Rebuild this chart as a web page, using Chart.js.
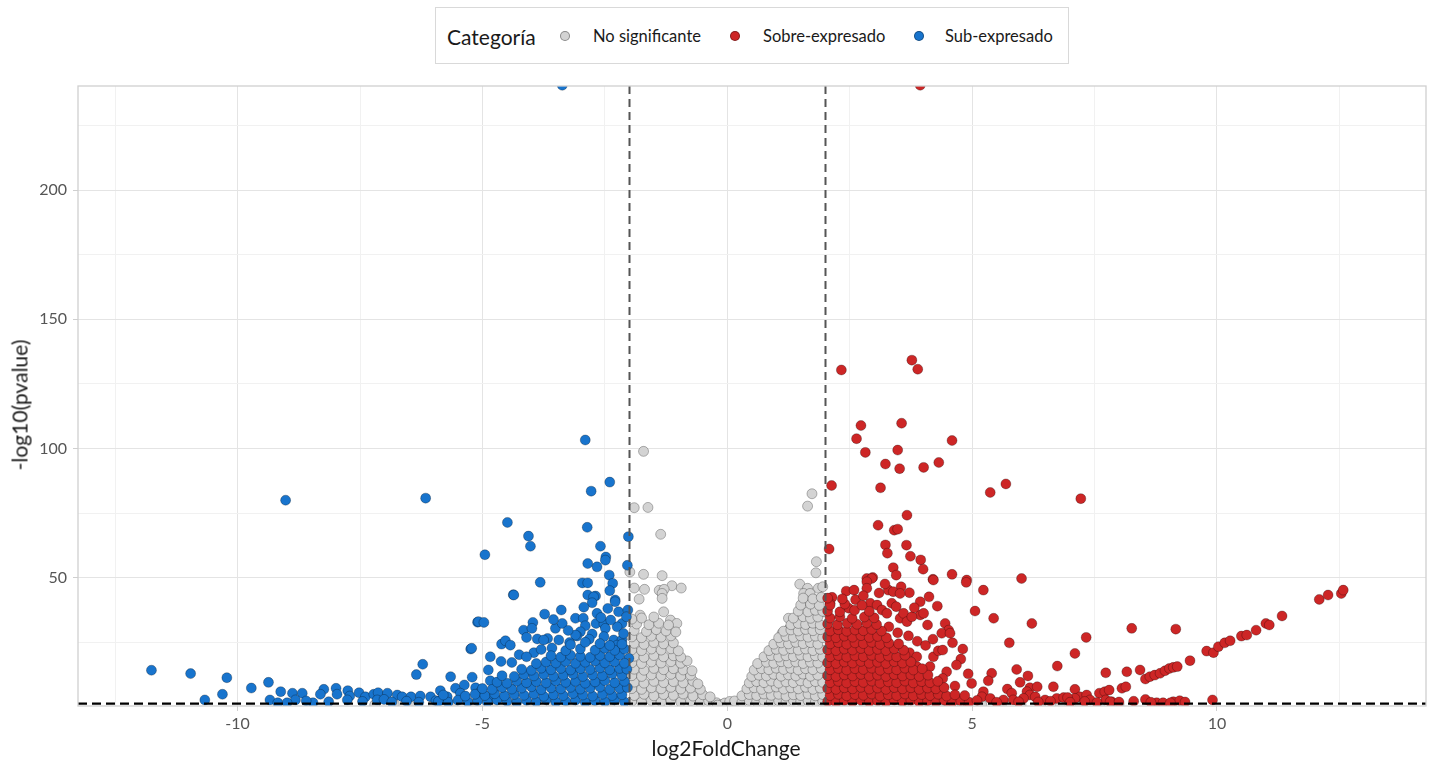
<!DOCTYPE html>
<html><head><meta charset="utf-8">
<script src="https://cdn.jsdelivr.net/npm/chart.js@4"></script>
<style>
html,body{margin:0;padding:0;background:#fff;}
#wrap{position:relative;width:1435px;height:763px;font-family:Lato,"Open Sans",sans-serif;color:#1a1a1a;overflow:hidden;}
#c{position:absolute;left:0;top:0;}
.lg-box{position:absolute;left:435px;top:7px;width:634px;height:57px;border:1.5px solid #d9d9d9;box-sizing:border-box;background:#fff;}
.lg{position:absolute;top:36px;transform:translateY(-50%);white-space:nowrap;line-height:1;}
.lg-title{font-size:21px;left:447px;}
.lg-item{font-size:16.5px;}
.dot{position:absolute;top:36px;width:10px;height:10px;margin-left:-5px;margin-top:-5px;border-radius:50%;box-sizing:border-box;border:0.6px solid rgba(0,0,0,0.35);}
.ax{position:absolute;font-size:21px;white-space:nowrap;line-height:1;}
</style>
</head><body>
<div id="wrap">
<canvas id="c" width="1435" height="763"></canvas>
<div class="lg-box"></div>
<div class="lg lg-title">Categoría</div>
<div class="dot" style="left:565px;background:#D3D3D3"></div>
<div class="lg lg-item" style="left:593px">No significante</div>
<div class="dot" style="left:735px;background:#CD2626"></div>
<div class="lg lg-item" style="left:763px">Sobre-expresado</div>
<div class="dot" style="left:919px;background:#1874CD"></div>
<div class="lg lg-item" style="left:945px">Sub-expresado</div>
<div class="ax" id="xt" style="left:726px;top:747px;transform:translate(-50%,-50%)">log2FoldChange</div>
<div class="ax" id="yt" style="left:19px;top:405px;transform:translate(-50%,-50%) rotate(-90deg)">-log10(pvalue)</div>
</div>
<script>
// ---- categories ----
const categories = ["No significante", "Sobre-expresado", "Sub-expresado"];
const categoryColors = ["#D3D3D3", "#CD2626", "#1874CD"];

// ---- thresholds ----
const fcThresholds = [-2, 2];
const pThreshold = 1.3;

// ---- axis ticks ----
const xGridValues = [-12.5, -10, -7.5, -5, -2.5, 0, 2.5, 5, 7.5, 10, 12.5];
const xLabelValues = [-10, -5, 0, 5, 10];
const yGridValues = [25, 50, 75, 100, 125, 150, 175, 200, 225];
const yLabelValues = [50, 100, 150, 200];
const xRange = [-13.26, 14.27];
const yRange = [0.35, 240.3];

// ---- series: No significante [log2FC, -log10 p] ----
const noSigPoints = [
[-1.71,98.9],[-1.90,77.1],[-1.62,77.2],[-1.36,66.8],[-1.99,52.2],[-1.71,51.3],[-1.33,50.8],[-1.13,46.9],[-0.94,46.0],[-1.90,46.0],[-1.69,45.5],[-1.39,45.1],[-1.29,45.5],[-1.33,43.9],[-1.80,41.7],[-1.33,42.0],[-1.78,35.5],[-1.30,36.8],[-1.16,33.6],[-1.03,32.3],
[1.73,82.5],[1.64,77.7],[1.82,56.2],[1.81,51.9],[1.48,47.5],[1.64,45.9],[1.86,45.9],[1.95,46.5],[1.56,43.9],[1.69,43.9],[1.61,41.1],[1.80,41.4],[1.97,36.8],[1.25,34.3],[1.42,32.3],[1.76,33.6],[1.27,30.4],[1.12,28.5],[1.56,29.7],[1.69,27.2],
[-1.95,2.2],[-1.75,1.8],[-1.55,2.5],[-1.35,2.0],[-1.15,2.6],[-0.95,1.9],[-0.75,2.3],[-0.55,1.8],[-0.38,2.4],[-0.22,1.6],
[-1.9,4.4],[-1.7,4.9],[-1.5,4.3],[-1.3,4.8],[-1.1,4.5],[-0.9,5.0],[-0.7,4.2],[-0.5,4.7],[-0.35,3.9],
[-1.95,7.1],[-1.75,6.8],[-1.55,7.4],[-1.35,7.0],[-1.15,7.6],[-0.95,6.9],[-0.75,7.3],[-0.55,6.8],
[-1.9,9.6],[-1.7,9.2],[-1.5,9.9],[-1.3,9.4],[-1.1,9.8],[-0.9,9.3],[-0.7,10.0],[-0.6,8.9],
[-1.95,12.1],[-1.75,11.8],[-1.55,12.4],[-1.35,12.0],[-1.15,12.6],[-0.95,11.9],[-0.75,12.3],
[-1.9,14.6],[-1.7,14.2],[-1.5,14.9],[-1.3,14.4],[-1.1,14.8],[-0.9,14.3],[-0.72,14.0],
[-1.95,17.1],[-1.75,16.8],[-1.55,17.4],[-1.35,17.0],[-1.15,17.5],[-0.95,16.9],[-0.82,17.8],
[-1.9,19.6],[-1.7,19.2],[-1.5,19.9],[-1.3,19.4],[-1.1,19.8],[-0.95,19.3],
[-1.95,22.1],[-1.75,21.8],[-1.55,22.4],[-1.35,22.0],[-1.15,22.5],[-1.0,21.7],
[-1.9,24.6],[-1.7,24.2],[-1.5,24.9],[-1.3,24.4],[-1.1,24.8],
[-1.95,27.1],[-1.75,26.8],[-1.55,27.4],[-1.35,27.0],[-1.15,27.5],
[-1.9,29.6],[-1.65,29.2],[-1.45,29.9],[-1.25,29.4],[-1.05,29.0],
[-1.85,32.1],[-1.6,31.8],[-1.4,32.4],[-1.2,31.7],
[-1.75,34.4],[-1.5,34.8],[-1.95,34.0],
[-0.12,0.9],[0.0,0.6],[0.1,1.0],[-0.05,1.5],[0.05,2.1],[-0.2,0.7],[0.2,0.8],
[-7.2,0.8],[-6.8,1.0],[-6.4,0.7],[-6.0,0.9],[-5.6,0.8],[-5.2,1.0],[-4.8,0.7],[-4.4,0.9],[-4.0,0.8],[-3.6,1.0],[-3.2,0.7],[-2.8,0.9],[-2.4,0.8],
[2.4,0.9],[2.8,0.7],[3.2,1.0],[3.6,0.8],[4.0,0.9],[4.4,0.7],[4.8,1.0],[5.2,0.8],[5.6,0.9],[6.0,0.7],[6.4,1.0],[6.8,0.8],[7.2,0.9],[7.6,0.7],[8.0,0.9],
[0.15,2.3],[0.3,1.8],[0.45,2.5],[0.6,2.0],[0.75,2.6],[0.9,1.9],[1.05,2.4],[1.2,1.8],[1.35,2.6],[1.5,2.1],[1.65,2.5],[1.8,1.9],[1.95,2.3],
[0.3,4.3],[0.45,4.8],[0.6,4.4],[0.75,5.0],[0.9,4.5],[1.05,4.9],[1.2,4.2],[1.35,4.7],[1.5,4.4],[1.65,5.0],[1.8,4.3],[1.95,4.8],
[0.4,7.0],[0.55,7.4],[0.7,6.8],[0.85,7.3],[1.0,7.7],[1.15,6.9],[1.3,7.4],[1.45,7.0],[1.6,7.6],[1.75,6.8],[1.9,7.3],
[0.45,9.3],[0.6,9.8],[0.75,9.4],[0.9,10.0],[1.05,9.2],[1.2,9.7],[1.35,9.4],[1.5,10.1],[1.65,9.3],[1.8,9.8],[1.95,9.5],
[0.5,11.8],[0.65,12.3],[0.8,12.0],[0.95,12.6],[1.1,11.9],[1.25,12.4],[1.4,12.0],[1.55,12.7],[1.7,11.9],[1.85,12.3],
[0.55,14.3],[0.7,14.8],[0.85,14.4],[1.0,15.0],[1.15,14.5],[1.3,14.9],[1.45,14.3],[1.6,14.8],[1.75,14.4],[1.92,14.9],
[0.62,16.8],[0.8,17.3],[0.95,16.9],[1.1,17.5],[1.25,17.0],[1.4,17.4],[1.55,16.8],[1.7,17.3],[1.85,17.0],
[0.75,19.4],[0.9,19.9],[1.05,19.3],[1.2,19.8],[1.35,19.5],[1.5,20.0],[1.65,19.4],[1.8,19.8],[1.95,19.3],
[0.85,21.8],[1.0,22.3],[1.15,21.9],[1.3,22.5],[1.45,22.0],[1.6,22.4],[1.75,21.8],[1.9,22.3],
[0.95,24.3],[1.1,24.8],[1.25,24.4],[1.4,25.0],[1.55,24.5],[1.7,24.9],[1.85,24.3],
[1.05,26.8],[1.2,27.3],[1.35,26.9],[1.5,27.5],[1.65,27.0],[1.8,27.4],[1.95,26.8],
[1.15,29.3],[1.3,29.8],[1.45,29.4],[1.6,30.0],[1.75,29.5],[1.9,29.9],
[1.3,31.8],[1.45,32.3],[1.6,31.9],[1.75,32.4],[1.9,31.8],
[1.35,34.4],[1.55,34.9],[1.7,34.3],[1.85,34.8],
[1.45,37.1],[1.65,36.8],[1.8,37.4],[1.95,37.0],
[1.5,39.4],[1.7,39.8],[1.88,39.3],
[1.55,42.1],[1.75,41.8],[1.92,42.4]
];

// ---- series: Sobre-expresado ----
const upPoints = [
[3.94,240.6],[2.33,130.4],[3.77,134.2],[3.89,130.7],[2.73,108.9],[2.64,103.8],[3.56,109.8],[2.82,98.5],[3.48,99.4],[4.59,103.1],[3.23,94.0],[3.52,92.2],[4.01,92.7],[4.32,94.6],[2.13,85.7],[3.13,84.8],[5.37,83.0],[5.69,86.3],[3.67,74.2],[3.08,70.3],[3.41,68.4],[3.48,68.8],[2.08,61.1],[3.23,62.7],[3.27,59.5],[3.66,62.6],[3.74,58.3],[3.95,56.9],[3.39,53.9],[4.00,53.3],[3.45,51.0],[4.59,51.3],[6.01,49.7],[2.85,49.7],[2.97,50.1],[4.20,49.4],[4.89,49.1],[7.22,80.6],
[5.23,45.2],[5.44,34.3],[6.22,32.3],[5.76,24.8],[7.33,26.9],[7.10,20.7],[6.74,15.8],[5.91,14.5],[6.14,12.0],[5.40,13.0],[5.33,10.1],[5.98,9.5],[6.66,7.8],[6.18,7.4],[6.33,7.8],[5.72,6.9],[5.81,5.3],[6.12,5.9],[6.18,4.6],[6.29,3.9],[5.23,5.9],[5.20,3.9],[5.37,3.3],[5.64,2.7],[5.84,2.7],[6.05,3.3],[6.49,2.7],[6.73,3.3],[6.87,3.6],[7.10,6.8],[7.20,3.9],[7.34,4.6],[7.41,2.7],[7.10,3.3],[6.95,3.6],
[7.73,13.2],[7.60,5.3],[7.71,5.9],[7.80,6.5],[7.85,2.0],[8.06,7.2],[8.14,7.8],[8.16,13.6],[8.43,14.3],[8.26,30.4],[8.54,2.9],[8.54,10.8],[8.63,11.7],[8.73,12.3],[8.84,13.0],[8.94,14.0],[9.03,14.9],[9.11,15.3],[9.19,15.6],[9.16,30.1],[8.77,1.6],[8.90,1.6],[9.11,2.0],[9.24,2.4],[9.45,17.9],[9.79,21.6],[9.93,21.0],[10.03,23.3],[10.16,24.8],[10.27,25.6],[10.50,27.4],[10.61,27.8],[10.80,29.7],[11.00,32.3],[11.07,31.7],[11.33,35.2],[12.09,41.6],[12.27,43.3],[12.54,43.9],[12.58,45.2],[9.91,2.7],[7.73,2.7],[7.82,2.0],
[4.88,48.2],[4.21,49.1],[5.06,37.1],[4.29,39.0],[4.45,32.3],[4.52,29.7],[4.38,28.5],[4.55,28.5],[4.81,22.4],[4.77,18.5],[4.48,13.6],[4.99,9.1],[4.65,8.1],[4.28,7.8],[3.94,40.7],[3.94,35.6],[4.01,36.2],[4.09,31.7],[3.72,21.0],[3.87,19.4],[3.87,15.6],[4.14,15.6],[4.21,19.4],[4.31,21.7],[4.40,22.0],[3.29,45.2],[3.55,46.5],[3.39,44.6],[3.72,44.2],[3.53,43.9],[2.95,49.7],[2.85,48.4],[2.85,45.9],[2.43,44.8],[2.59,45.2],[2.14,42.4],[2.10,40.1],
[2.92,40.1],[3.06,39.4],[3.16,37.5],[3.26,36.2],[3.36,40.1],[3.53,34.3],[3.60,36.2],[3.67,33.0],[3.77,34.9],
[2.62,41.5],[2.78,43.0],[3.10,44.1],[3.22,47.6],[2.48,38.2],[3.45,38.8],[3.82,38.4],[4.12,42.6],[3.30,31.0],[3.48,28.7],[3.70,27.5],[3.88,25.4],[4.05,23.8],[4.20,26.2],[4.60,24.8],[4.68,16.2],[4.40,11.0],[4.92,12.8],
[5.5,1.8],[5.95,2.0],[6.35,1.9],[6.6,2.2],[7.0,1.8],[7.3,2.1],[7.55,1.7],[8.0,1.9],[8.3,2.2],[8.65,1.8],[9.05,1.6],[9.35,1.9],[4.5,1.8],[4.7,2.9],[4.9,1.7],
[2.05,2.1],[2.22,1.8],[2.39,2.5],[2.56,2.0],[2.73,2.6],[2.9,1.9],[3.07,2.4],[3.24,1.8],[3.41,2.6],[3.58,2.1],[3.75,2.5],[3.92,1.9],[4.09,2.3],[4.26,1.8],[4.43,2.6],[4.6,2.0],[4.77,2.4],[4.94,1.8],[5.1,2.5],
[2.1,4.4],[2.27,4.9],[2.44,4.3],[2.61,4.8],[2.78,4.5],[2.95,5.0],[3.12,4.2],[3.29,4.7],[3.46,4.4],[3.63,5.0],[3.8,4.3],[3.97,4.8],[4.14,4.4],[4.31,4.9],[4.48,4.2],[4.65,4.7],[4.85,4.4],
[2.05,7.1],[2.22,6.8],[2.39,7.4],[2.56,7.0],[2.73,7.6],[2.9,6.9],[3.07,7.3],[3.24,6.8],[3.41,7.5],[3.58,7.0],[3.75,7.4],[3.92,6.8],[4.09,7.3],[4.26,7.0],[4.43,7.5],
[2.1,9.4],[2.27,9.9],[2.44,9.3],[2.61,9.8],[2.78,9.5],[2.95,10.0],[3.12,9.2],[3.29,9.7],[3.46,9.4],[3.63,10.0],[3.8,9.3],[3.97,9.8],[4.14,9.4],[4.3,9.9],
[2.05,12.1],[2.22,11.8],[2.39,12.4],[2.56,12.0],[2.73,12.6],[2.9,11.9],[3.07,12.3],[3.24,11.8],[3.41,12.5],[3.58,12.0],[3.75,12.4],[3.92,11.8],[4.1,12.3],
[2.1,14.4],[2.27,14.9],[2.44,14.3],[2.61,14.8],[2.78,14.5],[2.95,15.0],[3.12,14.2],[3.29,14.7],[3.46,14.4],[3.63,15.0],[3.8,14.3],[3.98,14.8],
[2.05,17.1],[2.22,16.8],[2.39,17.4],[2.56,17.0],[2.73,17.6],[2.9,16.9],[3.07,17.3],[3.24,16.8],[3.41,17.5],[3.58,17.0],[3.75,17.4],
[2.1,19.4],[2.27,19.9],[2.44,19.3],[2.61,19.8],[2.78,19.5],[2.95,20.0],[3.12,19.2],[3.29,19.7],[3.46,19.4],[3.63,20.0],
[2.05,22.1],[2.22,21.8],[2.39,22.4],[2.56,22.0],[2.73,22.6],[2.9,21.9],[3.07,22.3],[3.24,21.8],[3.41,22.5],[3.6,22.0],
[2.1,24.4],[2.27,24.9],[2.44,24.3],[2.61,24.8],[2.78,24.5],[2.95,25.0],[3.12,24.2],[3.3,24.7],[3.5,24.4],
[2.05,27.1],[2.22,26.8],[2.39,27.4],[2.56,27.0],[2.73,27.6],[2.9,26.9],[3.07,27.3],[3.25,26.8],
[2.1,29.4],[2.27,29.9],[2.44,29.3],[2.61,29.8],[2.78,29.5],[2.95,30.0],[3.15,29.4],
[2.05,32.1],[2.25,31.8],[2.45,32.4],[2.65,32.0],[2.85,32.5],[3.05,31.9],
[2.1,34.4],[2.3,34.9],[2.55,34.3],[2.8,34.8],[3.0,34.5],
[2.05,37.1],[2.3,36.8],[2.6,37.4],[2.9,37.0],
[2.1,39.4],[2.4,39.8],[2.75,39.3],
[2.05,42.1],[2.35,41.8]
];

// ---- series: Sub-expresado ----
const downPoints = [
[-3.37,240.6],[-9.02,80.0],[-6.16,80.8],[-2.90,103.3],[-2.40,87.0],[-2.78,83.5],[-4.49,71.4],[-2.86,69.5],[-4.06,66.1],[-4.02,62.2],[-2.02,65.9],[-2.59,62.2],[-4.95,58.9],[-2.48,58.0],[-2.85,55.5],[-2.66,54.2],[-2.04,54.8],[-2.41,51.0],[-3.82,48.2],[-2.96,48.0],[-2.85,48.0],[-2.34,47.8],[-4.37,43.4],[-2.40,45.0],[-2.85,43.3],[-2.69,42.9],[-2.29,41.4],
[-11.76,14.2],[-10.96,12.9],[-10.22,11.3],[-10.67,2.7],[-10.31,4.9],[-9.72,7.3],[-9.37,9.5],[-9.34,2.7],[-9.12,5.9],[-9.18,1.6],[-8.88,5.3],[-8.68,5.3],[-8.82,2.7],[-8.99,1.6],[-8.46,1.6],[-8.24,6.8],[-8.31,4.9],[-7.99,7.2],[-7.97,4.9],[-8.14,2.0],[-7.75,6.3],[-7.71,4.2],[-7.76,2.7],[-7.52,5.5],[-7.39,3.9],[-7.22,4.9],[-7.13,5.5],[-6.94,5.3],[-7.15,2.7],[-7.01,2.9],[-6.74,4.6],[-6.64,3.9],[-6.46,3.9],[-6.27,4.2],[-6.06,3.9],[-5.86,6.3],[-5.82,2.9],[-6.35,12.5],[-6.22,16.5],[-5.65,11.7],[-5.55,7.2],[-5.37,8.5],[-5.21,11.5],[-5.24,22.4],[-5.10,32.8],
[-6.85,1.9],[-6.55,2.2],[-6.3,1.8],[-5.95,2.4],[-7.45,2.1],[-8.6,2.3],
[-5.08,33.0],[-4.97,32.7],[-5.22,22.7],[-4.36,43.3],[-4.84,19.4],[-5.14,7.4],[-4.84,10.1],[-5.72,3.9],[-5.45,5.3],[-5.04,5.9],[-4.77,3.9],[-3.73,35.9],[-3.39,37.5],[-4.16,29.7],[-3.97,32.7],[-4.10,26.9],[-3.99,30.4],[-3.51,30.4],[-3.37,32.3],[-3.44,25.9],[-3.67,26.5],[-3.88,26.3],[-3.75,25.9],[-4.61,24.3],[-4.53,25.6],[-4.43,23.9],[-3.10,34.3],[-2.94,34.3],[-2.90,31.4],[-3.00,29.1],[-3.07,27.4],[-2.73,42.6],[-2.76,40.3],[-2.49,56.8],[-2.66,36.2],[-2.29,40.7],[-2.22,36.8],[-2.03,37.5],[-2.15,32.3],[-2.25,31.0],[-2.68,32.3],[-2.52,32.1],[-2.49,30.4],[-3.10,27.8],[-2.76,28.2],[-2.52,27.2],[-2.32,25.9],[-2.15,25.9],[-2.25,23.9],[-2.01,18.8],
[-3.25,29.6],[-3.58,22.8],[-3.95,21.0],[-4.25,20.2],[-4.62,17.6],[-4.88,14.3],[-2.58,34.6],[-2.38,33.6],[-2.12,28.4],[-2.06,34.9],[-2.44,38.1],[-2.93,38.6],[-3.22,24.9],[-2.82,26.2],[-3.55,33.8],
[-5.9,2.1],[-5.7,1.8],[-5.5,2.6],[-5.3,2.0],[-5.1,2.4],[-4.9,1.9],[-4.7,2.7],[-4.5,2.2],[-4.3,1.8],[-4.1,2.5],[-3.9,2.0],[-3.7,2.8],[-3.5,1.9],[-3.3,2.3],[-3.1,2.6],[-2.9,1.8],[-2.7,2.4],[-2.5,2.0],[-2.3,2.7],[-2.1,1.9],
[-5.8,4.6],[-5.35,4.2],[-5.15,4.9],[-4.95,4.4],[-4.75,5.1],[-4.55,4.3],[-4.35,4.8],[-4.15,4.5],[-3.95,5.0],[-3.75,4.1],[-3.55,4.7],[-3.35,4.4],[-3.15,5.2],[-2.95,4.6],[-2.75,4.2],[-2.55,4.9],[-2.35,4.4],[-2.15,4.7],
[-5.0,7.1],[-4.8,6.8],[-4.6,7.5],[-4.4,6.9],[-4.2,7.3],[-4.0,7.8],[-3.8,6.7],[-3.6,7.4],[-3.4,7.0],[-3.2,7.6],[-3.0,6.9],[-2.8,7.3],[-2.6,7.7],[-2.4,6.8],[-2.2,7.2],[-2.04,7.5],
[-4.7,9.6],[-4.5,9.2],[-4.3,10.0],[-4.1,9.4],[-3.9,9.8],[-3.7,9.3],[-3.5,10.1],[-3.3,9.5],[-3.1,9.9],[-2.9,9.2],[-2.7,9.7],[-2.5,10.2],[-2.3,9.4],[-2.1,9.9],
[-4.6,12.1],[-4.35,11.8],[-4.15,12.5],[-3.95,12.0],[-3.75,12.6],[-3.55,11.9],[-3.35,12.3],[-3.15,12.7],[-2.95,11.8],[-2.75,12.4],[-2.55,12.1],[-2.35,12.8],[-2.15,12.2],
[-4.2,14.6],[-4.0,14.2],[-3.8,15.0],[-3.6,14.4],[-3.4,14.9],[-3.2,14.3],[-3.0,14.8],[-2.8,14.5],[-2.6,15.1],[-2.4,14.4],[-2.2,14.9],[-2.05,14.6],
[-4.4,17.2],[-3.9,16.8],[-3.7,17.4],[-3.5,17.0],[-3.3,17.6],[-3.1,16.9],[-2.9,17.3],[-2.7,17.8],[-2.5,17.1],[-2.3,17.5],[-2.1,16.9],
[-4.1,19.4],[-3.6,19.8],[-3.4,19.3],[-3.2,20.0],[-3.0,19.6],[-2.8,19.2],[-2.6,19.9],[-2.4,19.5],[-2.2,20.1],
[-3.8,22.2],[-3.3,21.8],[-3.0,22.5],[-2.7,22.0],[-2.5,22.7],[-2.3,21.9],[-2.1,22.4],
[-3.2,24.1],[-2.6,24.5],[-2.4,23.8],[-2.15,24.3],[-2.9,25.0]
];

const seriesPoints = [noSigPoints, upPoints, downPoints];
const drawOrder = [3, 2, 1];

const refLines = {
  id: 'refLines',
  afterDatasetsDraw(chart) {
    const { ctx, chartArea: a, scales: { x, y } } = chart;
    ctx.save();
    ctx.beginPath();
    ctx.rect(a.left, a.top, a.right - a.left, a.bottom - a.top);
    ctx.clip();
    ctx.lineWidth = 2;
    ctx.strokeStyle = '#555555';
    ctx.setLineDash([8, 5]);
    fcThresholds.forEach(v => {
      const px = Math.round(x.getPixelForValue(v)) + 0.5;
      ctx.beginPath(); ctx.moveTo(px, a.top); ctx.lineTo(px, a.bottom); ctx.stroke();
    });
    ctx.strokeStyle = '#000000';
    ctx.lineWidth = 2.3;
    ctx.setLineDash([9, 5]);
    const py = y.getPixelForValue(pThreshold);
    ctx.beginPath(); ctx.moveTo(a.left, py); ctx.lineTo(a.right, py); ctx.stroke();
    ctx.restore();
    ctx.save();
    ctx.strokeStyle = '#d0d0d0';
    ctx.lineWidth = 1.3;
    ctx.strokeRect(a.left, a.top, a.right - a.left, a.bottom - a.top);
    ctx.restore();
  }
};

const gridColor = (majors) => (c) => (c.tick && majors.includes(c.tick.value)) ? '#e4e4e4' : '#f1f1f1';
const tickColor = (majors) => (c) => (c.tick && majors.includes(c.tick.value)) ? '#cfcfcf' : 'rgba(0,0,0,0)';

new Chart(document.getElementById('c'), {
  type: 'scatter',
  data: {
    datasets: categories.map((name, i) => ({
      label: name,
      data: seriesPoints[i].map(p => ({ x: p[0], y: p[1] })),
      backgroundColor: categoryColors[i],
      borderColor: 'rgba(0,0,0,0.45)',
      borderWidth: 0.6,
      pointRadius: 5,
      pointHoverRadius: 5,
      order: drawOrder[i],
      clip: 0
    }))
  },
  options: {
    responsive: false,
    animation: false,
    devicePixelRatio: 1,
    layout: { padding: { top: 86, right: 9, left: 0, bottom: 0 } },
    plugins: { legend: { display: false }, tooltip: { enabled: false } },
    scales: {
      x: {
        type: 'linear', min: xRange[0], max: xRange[1],
        afterBuildTicks: s => { s.ticks = xGridValues.map(v => ({ value: v })); },
        afterFit: s => { s.height = 57; },
        ticks: {
          autoSkip: false, maxRotation: 0, padding: 3,
          color: '#555555', font: { family: 'Lato', size: 16 },
          callback: v => xLabelValues.includes(v) ? String(v) : ''
        },
        grid: { color: gridColor(xLabelValues), tickColor: tickColor(xLabelValues), tickLength: 5, lineWidth: 1 },
        border: { display: false }
      },
      y: {
        type: 'linear', min: yRange[0], max: yRange[1],
        afterBuildTicks: s => { s.ticks = yGridValues.map(v => ({ value: v })); },
        afterFit: s => { s.width = 78; },
        ticks: {
          autoSkip: false, padding: 6,
          color: '#555555', font: { family: 'Lato', size: 16 },
          callback: v => yLabelValues.includes(v) ? String(v) : ''
        },
        grid: { color: gridColor(yLabelValues), tickColor: tickColor(yLabelValues), tickLength: 5, lineWidth: 1 },
        border: { display: false }
      }
    }
  },
  plugins: [refLines]
});
</script>
</body></html>
